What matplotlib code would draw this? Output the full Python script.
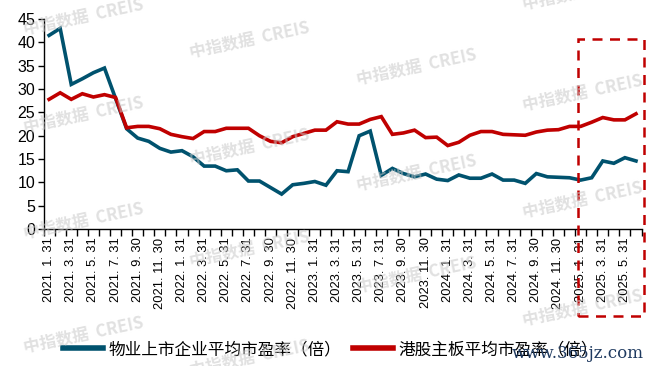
import matplotlib
matplotlib.use("Agg")
import matplotlib.pyplot as plt
from matplotlib.patches import Rectangle
from matplotlib.lines import Line2D
import numpy as np
import pandas as pd

plt.rcParams['font.family'] = ['Liberation Sans', 'Noto Sans CJK SC', 'DejaVu Sans']

# 月末日期 2021.1 - 2025.6
dates = pd.date_range('2021-01-31', periods=54, freq='ME')
labels = [f"{d.year}. {d.month}. {d.day}" for d in dates]

# 物业上市企业平均市盈率（倍）
wuye = [41.5, 43.0, 31.0, 32.2, 33.5, 34.5, 28.0, 21.5, 19.5, 18.8,
        17.3, 16.5, 16.8, 15.5, 13.5, 13.5, 12.5, 12.7, 10.3, 10.3,
        8.9, 7.5, 9.5, 9.8, 10.2, 9.4, 12.5, 12.3, 20.0, 21.0,
        11.5, 13.0, 11.9, 11.2, 11.8, 10.7, 10.4, 11.6, 10.9, 10.9,
        11.8, 10.5, 10.5, 9.8, 11.9, 11.2, 11.1, 11.0, 10.5, 11.0,
        14.6, 14.1, 15.3, 14.6]

# 港股主板平均市盈率（倍）
ganggu = [27.8, 29.2, 27.8, 29.0, 28.3, 28.8, 28.2, 21.7, 22.0, 22.0,
          21.5, 20.3, 19.8, 19.4, 20.9, 20.9, 21.6, 21.6, 21.6, 20.0,
          18.8, 18.5, 19.8, 20.5, 21.2, 21.2, 23.0, 22.5, 22.5, 23.5,
          24.1, 20.3, 20.6, 21.2, 19.6, 19.7, 17.9, 18.6, 20.1, 20.9,
          20.9, 20.3, 20.2, 20.1, 20.8, 21.2, 21.3, 22.0, 22.0, 22.9,
          23.9, 23.4, 23.4, 24.7]

c_blue = '#00526E'
c_red = '#C00000'

fig = plt.figure(figsize=(6.6, 3.66), dpi=100)
ax = fig.add_axes([0.066, 0.374, 0.906, 0.574])

x = np.arange(len(dates))
ax.plot(x, wuye, color=c_blue, lw=2.6, solid_joinstyle='miter', zorder=3)
ax.plot(x, ganggu, color=c_red, lw=2.6, solid_joinstyle='miter', zorder=3)

ax.set_xlim(-0.5, len(dates) - 0.5)
ax.set_ylim(0, 45)
ax.set_yticks(range(0, 46, 5))
ax.tick_params(axis='y', labelsize=11.5, direction='out', length=4, width=1, pad=2)

ax.set_xticks(x[::2])
ax.set_xticklabels(labels[::2], rotation=90, fontsize=9.3)
ax.set_xticks(np.arange(-0.5, len(dates), 1), minor=True)
ax.tick_params(axis='x', which='major', length=0, pad=6)
ax.tick_params(axis='x', which='minor', length=5, width=1, direction='out')

for s in ['top', 'right']:
    ax.spines[s].set_visible(False)
for s in ['left', 'bottom']:
    ax.spines[s].set_color('black')
    ax.spines[s].set_linewidth(1)

# 2025年区域虚线框
rect = Rectangle((47.8, -18.6), 5.9, 59.4, fill=False, edgecolor=c_red,
                 lw=1.8, ls=(0, (4, 3)), clip_on=False, zorder=4)
ax.add_patch(rect)

# 图例
h1 = Line2D([], [], color=c_blue, lw=4)
h2 = Line2D([], [], color=c_red, lw=4)
fig.legend([h1, h2], ['物业上市企业平均市盈率（倍）', '港股主板平均市盈率（倍）'],
           loc='center left', bbox_to_anchor=(0.095, 0.045), ncol=2, frameon=False,
           prop={'family': ['Noto Sans CJK SC'], 'size': 12},
           handlelength=2.4, columnspacing=0.7, handletextpad=0.35,
           borderaxespad=0, borderpad=0)

# 水印
wm_pos = [(83, 17), (83, 115), (83, 221), (83, 335),
          (249, 40), (249, 147), (249, 249), (249, 358),
          (416, 67), (416, 173), (416, 275),
          (582, -8), (582, 93), (582, 200), (582, 308)]
for px, py in wm_pos:
    fig.text(px / 660, 1 - py / 366, '中指数据  CREIS', fontsize=12,
             family=['Noto Sans CJK SC'], fontweight='bold', color='#c8c8c8',
             alpha=0.55, rotation=12, ha='center', va='center', zorder=10)

fig.text(0.975, 0.035, 'www.365jz.com', fontsize=12, color='#1f3a60',
         family=['DejaVu Serif'], ha='right', va='center', zorder=11)

fig.savefig('out.png', dpi=100)
